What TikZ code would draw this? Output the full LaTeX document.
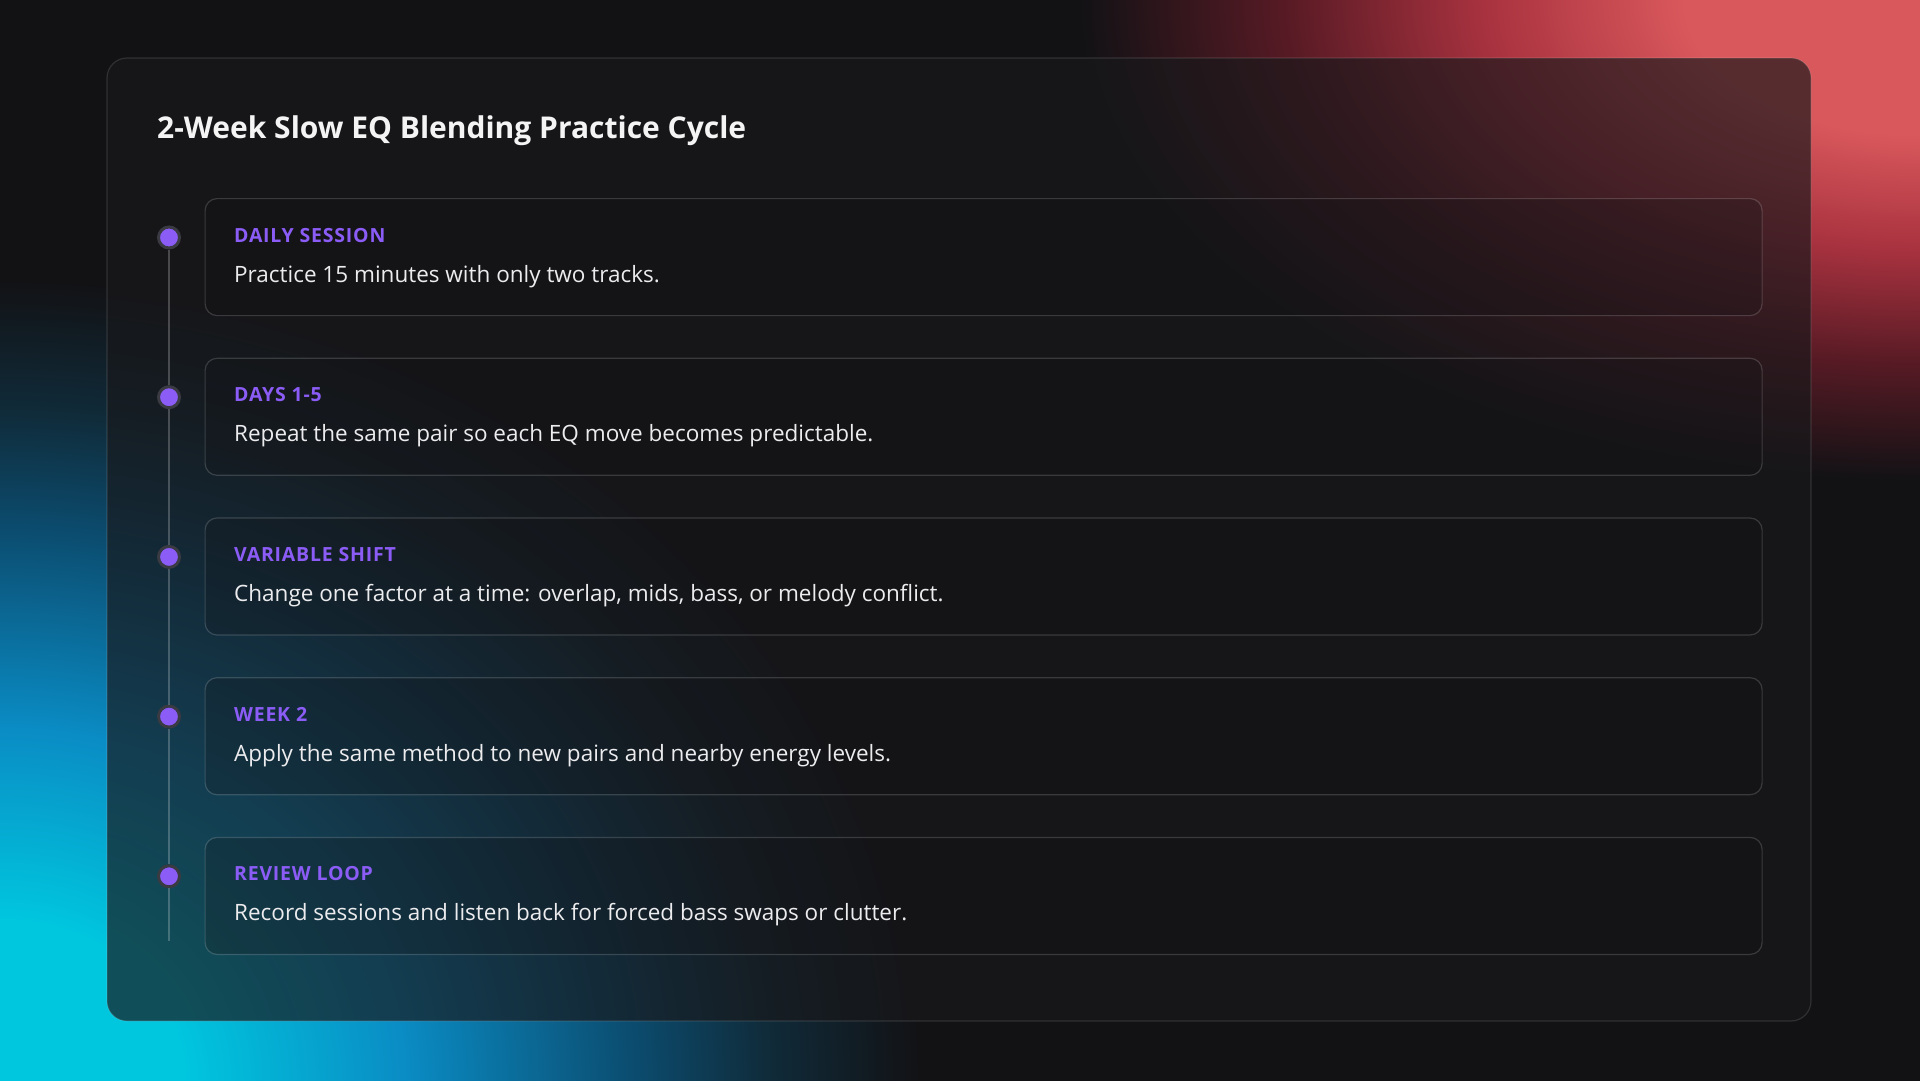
\documentclass[tikz,border=0pt]{standalone}
\usepackage{fontspec}
\setmainfont{Open Sans}
\newfontfamily\tagfont[LetterSpace=4]{Open Sans}
\usetikzlibrary{positioning}

\definecolor{bgdark}{HTML}{121215}
\definecolor{glowred}{HTML}{D9585C}
\definecolor{glowredmid}{HTML}{A8323F}
\definecolor{glowreddeep}{HTML}{561A24}
\definecolor{glowcyan}{HTML}{00C6DE}
\definecolor{glowblue}{HTML}{0A8CC4}
\definecolor{glowdeep}{HTML}{0B4E72}
\definecolor{glowteal}{HTML}{102A38}
\definecolor{panelfill}{HTML}{18181B}
\definecolor{tagpurple}{HTML}{8B5CF6}
\definecolor{dotring}{HTML}{3A3A42}
\definecolor{titletext}{HTML}{F4F4F5}
\definecolor{bodytext}{HTML}{ECECEE}

\pgfdeclareradialshading{redglow}{\pgfpoint{0bp}{0bp}}{color(0bp)=(glowred); color(7bp)=(glowred); color(13bp)=(glowredmid); color(19bp)=(glowreddeep); color(25bp)=(bgdark); color(50bp)=(bgdark)}
\pgfdeclareradialshading{blueglow}{\pgfpoint{0bp}{0bp}}{color(0bp)=(glowcyan); color(5bp)=(glowcyan); color(11bp)=(glowblue); color(17bp)=(glowdeep); color(21bp)=(glowteal); color(25bp)=(bgdark); color(50bp)=(bgdark)}

\begin{document}
\begin{tikzpicture}[x=1pt,y=-1pt,
  panel/.style={draw=white,draw opacity=.12,line width=1.2pt,fill=panelfill,fill opacity=.68,rounded corners=20pt},
  card/.style={draw=white,draw opacity=.16,line width=1.2pt,rounded corners=12pt,fill=bgdark,fill opacity=.25,
    minimum width=1557pt,minimum height=117pt,inner sep=0pt},
  title/.style={anchor=base west,inner sep=0pt,text=titletext,font=\bfseries\fontsize{30}{36}\selectfont},
  tag/.style={anchor=base west,inner sep=0pt,text=tagpurple,font=\tagfont\bfseries\fontsize{19.5}{23}\selectfont},
  body/.style={anchor=base west,inner sep=0pt,text=bodytext,font=\fontsize{22.5}{27}\selectfont},
  dot/.style={circle,fill=tagpurple,draw=dotring,line width=3pt,minimum size=21pt,inner sep=0pt},
  rail/.style={draw=white,draw opacity=.22,line width=2.4pt}]
\useasboundingbox (0,0) rectangle (1920,1080);

\fill[bgdark] (-10,-10) rectangle (1930,1090);
\begin{scope}
\clip (-10,-10) rectangle (1930,1090);
\shade[shading=redglow] (1920,0) ellipse (840 and 480);
\shade[shading=blueglow] (0,1080) ellipse (920 and 800);
\end{scope}

\draw[panel] (107,58) rectangle (1811,1021);
\node[title] (head) at (157,138) {2-Week Slow EQ Blending Practice Cycle};

\node[card,anchor=north west] (c1) at (204.5,198) {};
\node[card,below=41.5pt of c1] (c2) {};
\node[card,below=41.5pt of c2] (c3) {};
\node[card,below=41.5pt of c3] (c4) {};
\node[card,below=41.5pt of c4] (c5) {};

\node[tag] (t1) at ([shift={(29.5,44)}]c1.north west) {DAILY SESSION};
\node[body] (b1) at ([shift={(29.5,84)}]c1.north west) {Practice 15 minutes with only two tracks.};
\node[tag] (t2) at ([shift={(29.5,44)}]c2.north west) {DAYS 1-5};
\node[body] (b2) at ([shift={(29.5,84)}]c2.north west) {Repeat the same pair so each EQ move becomes predictable.};
\node[tag] (t3) at ([shift={(29.5,44)}]c3.north west) {VARIABLE SHIFT};
\node[body] (b3) at ([shift={(29.5,84)}]c3.north west) {Change one factor at a time: overlap, mids, bass, or melody conflict.};
\node[tag] (t4) at ([shift={(29.5,44)}]c4.north west) {WEEK 2};
\node[body] (b4) at ([shift={(29.5,84)}]c4.north west) {Apply the same method to new pairs and nearby energy levels.};
\node[tag] (t5) at ([shift={(29.5,44)}]c5.north west) {REVIEW LOOP};
\node[body] (b5) at ([shift={(29.5,84)}]c5.north west) {Record sessions and listen back for forced bass swaps or clutter.};

\node[dot] (d1) at ([shift={(-35.5,39.5)}]c1.north west) {};
\node[dot] (d2) at ([shift={(-35.5,39.5)}]c2.north west) {};
\node[dot] (d3) at ([shift={(-35.5,39.5)}]c3.north west) {};
\node[dot] (d4) at ([shift={(-35.5,39.5)}]c4.north west) {};
\node[dot] (d5) at ([shift={(-35.5,39.5)}]c5.north west) {};
\coordinate (railend) at (169,941);

\draw[rail] (d1) -- (d2);
\draw[rail] (d2) -- (d3);
\draw[rail] (d3) -- (d4);
\draw[rail] (d4) -- (d5);
\draw[rail] (d5) -- (railend);
\end{tikzpicture}
\end{document}
